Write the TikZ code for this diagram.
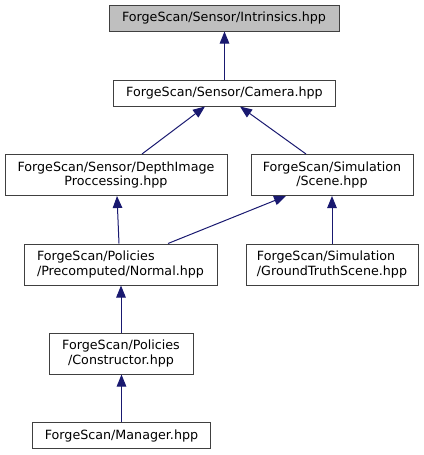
\documentclass[tikz,border=0pt]{standalone}
\usepackage{fontspec}
\setmainfont{DejaVu Sans}
\usetikzlibrary{arrows.meta}
\definecolor{edgeblue}{HTML}{191970}
\definecolor{boxline}{HTML}{404040}
\definecolor{boxgrey}{HTML}{BFBFBF}
\tikzset{
  filebox/.style={draw=boxline, line width=1pt, fill=white, rectangle, inner sep=0pt,
    font=\fontsize{12.7}{14.3}\selectfont, text=black},
  onebox/.style={filebox, minimum height=26pt},
  twobox/.style={filebox, minimum height=41pt},
  edge/.style={draw=edgeblue, line width=1pt, -{Triangle[length=12pt,width=9.5pt]}, edgeblue},
}
\begin{document}
\begin{tikzpicture}[x=1pt,y=-1pt]
\useasboundingbox (0,0) rectangle (423,455);
\node[onebox, fill=boxgrey, minimum width=230pt] (n1) at (224,18) {ForgeScan/Sensor/Intrinsics.hpp};
\node[onebox, minimum width=222pt] (n2) at (224.5,93) {ForgeScan/Sensor/Camera.hpp};
\node[twobox, minimum width=222pt, align=center] (n3) at (116,175) {ForgeScan/Sensor/DepthImage\\Proccessing.hpp};
\node[twobox, minimum width=162pt, align=center] (n4) at (332,175) {ForgeScan/Simulation\\/Scene.hpp};
\node[twobox, minimum width=193pt, align=left] (n5) at (120.5,264.5) {ForgeScan/Policies\\/Precomputed/Normal.hpp};
\node[twobox, minimum width=172pt, align=left] (n6) at (332,264.5) {ForgeScan/Simulation\\/GroundTruthScene.hpp};
\node[twobox, minimum width=144pt, align=center] (n7) at (121,353.5) {ForgeScan/Policies\\/Constructor.hpp};
\node[onebox, minimum width=178pt] (n8) at (121.5,435.5) {ForgeScan/Manager.hpp};

\draw[edge] (n2.north) -- (n2.north |- n1.south);
\draw[edge] ([xshift=26pt]n3.north) -- ([xshift=-19.5pt]n2.south);
\draw[edge] ([xshift=-26pt]n4.north) -- ([xshift=15.5pt]n2.south);
\draw[edge] ([xshift=-1.5pt]n5.north) -- ([xshift=1pt]n3.south);
\draw[edge] ([xshift=47.5pt]n5.north) -- ([xshift=-46pt]n4.south);
\draw[edge] (n6.north) -- (n4.south);
\draw[edge] (n7.north) -- (n7.north |- n5.south);
\draw[edge] (n8.north) -- (n8.north |- n7.south);
\end{tikzpicture}
\end{document}
